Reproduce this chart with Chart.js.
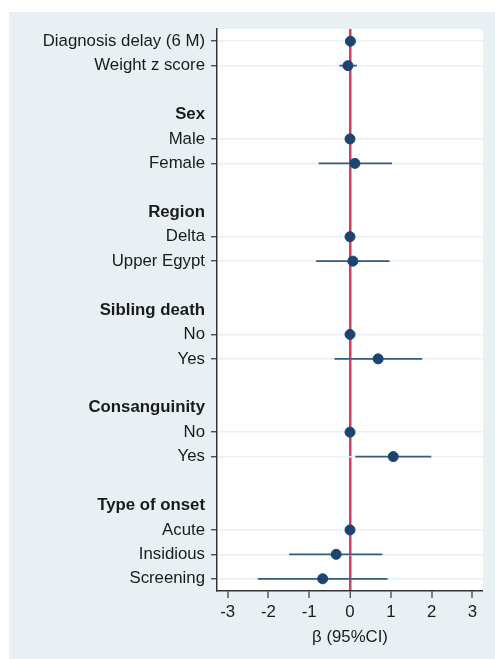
<!DOCTYPE html>
<html lang="en">
<head>
<meta charset="UTF-8">
<title>Forest plot</title>
<style>
  html, body { margin: 0; padding: 0; background: #fff; }
  #wrap { position: absolute; left: 9px; top: 12px; width: 486px; height: 647px; background: #e9f0f3; }
</style>
</head>
<body>
<div id="wrap"><canvas id="myChart" width="486" height="647"></canvas></div>

<script src="https://cdn.jsdelivr.net/npm/chart.js@4/dist/chart.umd.min.js"></script>
<script>
// rows from top to bottom; header rows have a label but no estimate, blank rows are ''
const rowLabels = ['Diagnosis delay (6 M)', 'Weight z score', '',
  'Sex', 'Male', 'Female', '',
  'Region', 'Delta', 'Upper Egypt', '',
  'Sibling death', 'No', 'Yes', '',
  'Consanguinity', 'No', 'Yes', '',
  'Type of onset', 'Acute', 'Insidious', 'Screening'];
const beta   = [0.01, -0.05, null, null, 0, 0.12, null, null, 0, 0.07, null, null, 0, 0.69, null, null, 0, 1.06, null, null, 0, -0.34, -0.67];
const ciLow  = [0.00, -0.26, null, null, 0, -0.77, null, null, 0, -0.83, null, null, 0, -0.38, null, null, 0, 0.13, null, null, 0, -1.49, -2.26];
const ciHigh = [0.02, 0.17, null, null, 0, 1.03, null, null, 0, 0.97, null, null, 0, 1.77, null, null, 0, 1.99, null, null, 0, 0.79, 0.92];
const xTicks = [-3, -2, -1, 0, 1, 2, 3];

const isData = i => beta[i] !== null && beta[i] !== undefined;
const isHeader = i => !isData(i) && rowLabels[i] !== '';

// points
const pts = [];
// CI segments, broken with nulls
const ci = [];
beta.forEach((b, i) => {
  if (b === null) return;
  pts.push({ x: b, y: i });
  ci.push({ x: ciLow[i], y: i }, { x: ciHigh[i], y: i }, { x: ciLow[i], y: null });
});

const textCol = '#1a1a1a';
const font = '"Liberation Sans", Arial, Helvetica, sans-serif';
const fs = 16.8;

const whiteArea = {
  id: 'whiteArea',
  beforeDraw(chart) {
    const a = chart.chartArea, c = chart.ctx;
    c.save();
    c.fillStyle = '#ffffff';
    c.fillRect(a.left, a.top, a.right - a.left, a.bottom - a.top);
    c.restore();
  }
};

const ctx = document.getElementById('myChart').getContext('2d');
const chart = new Chart(ctx, {
  type: 'scatter',
  data: {
    datasets: [{
      type: 'line',
      data: ci,
      borderColor: '#345b80',
      borderWidth: 1.8,
      pointRadius: 0,
      spanGaps: false,
      showLine: true,
      order: 2
    }, {
      data: pts,
      backgroundColor: '#1b4470',
      borderColor: '#1b4470',
      pointRadius: 5,
      order: 1
    }]
  },
  options: {
    responsive: false,
    animation: false,
    layout: { padding: { left: 0, right: 12, top: 17, bottom: 12 } },
    plugins: { legend: { display: false }, tooltip: { enabled: false } },
    scales: {
      x: {
        type: 'linear',
        min: -3.26,
        max: 3.26,
        afterBuildTicks: s => { s.ticks = xTicks.map(v => ({ value: v })); },
        afterFit: s => { s.height = 56; },
        ticks: { color: textCol, font: { family: font, size: fs }, padding: 4 },
        grid: {
          color: c => (c.tick && c.tick.value === 0) ? '#d23c62' : 'rgba(0,0,0,0)',
          lineWidth: c => (c.tick && c.tick.value === 0) ? 2.5 : 0,
          tickColor: '#333',
          tickLength: 7,
          tickWidth: 1.2
        },
        border: { display: true, color: '#333', width: 1.5 },
        title: {
          display: true,
          text: 'β (95%CI)',
          color: textCol,
          font: { family: font, size: fs },
          padding: { top: 2, bottom: 0 }
        }
      },
      y: {
        type: 'linear',
        reverse: true,
        min: -0.5,
        max: 22.5,
        afterBuildTicks: s => { s.ticks = rowLabels.map((l, i) => ({ value: i })); },
        afterFit: s => { s.width = 208; },
        ticks: {
          autoSkip: false,
          color: textCol,
          crossAlign: 'near',
          padding: 6,
          callback: v => rowLabels[v],
          font: c => ({ family: font, size: fs, weight: isHeader(c.index) ? 'bold' : 'normal' })
        },
        grid: {
          color: c => isData(c.index) ? '#e9eff2' : 'rgba(0,0,0,0)',
          lineWidth: 1.5,
          tickColor: c => isData(c.index) ? '#333' : 'rgba(0,0,0,0)',
          tickLength: 6,
          tickWidth: 1.2
        },
        border: { display: true, color: '#333', width: 1.5 }
      }
    }
  },
  plugins: [whiteArea]
});
</script>
</body>
</html>
